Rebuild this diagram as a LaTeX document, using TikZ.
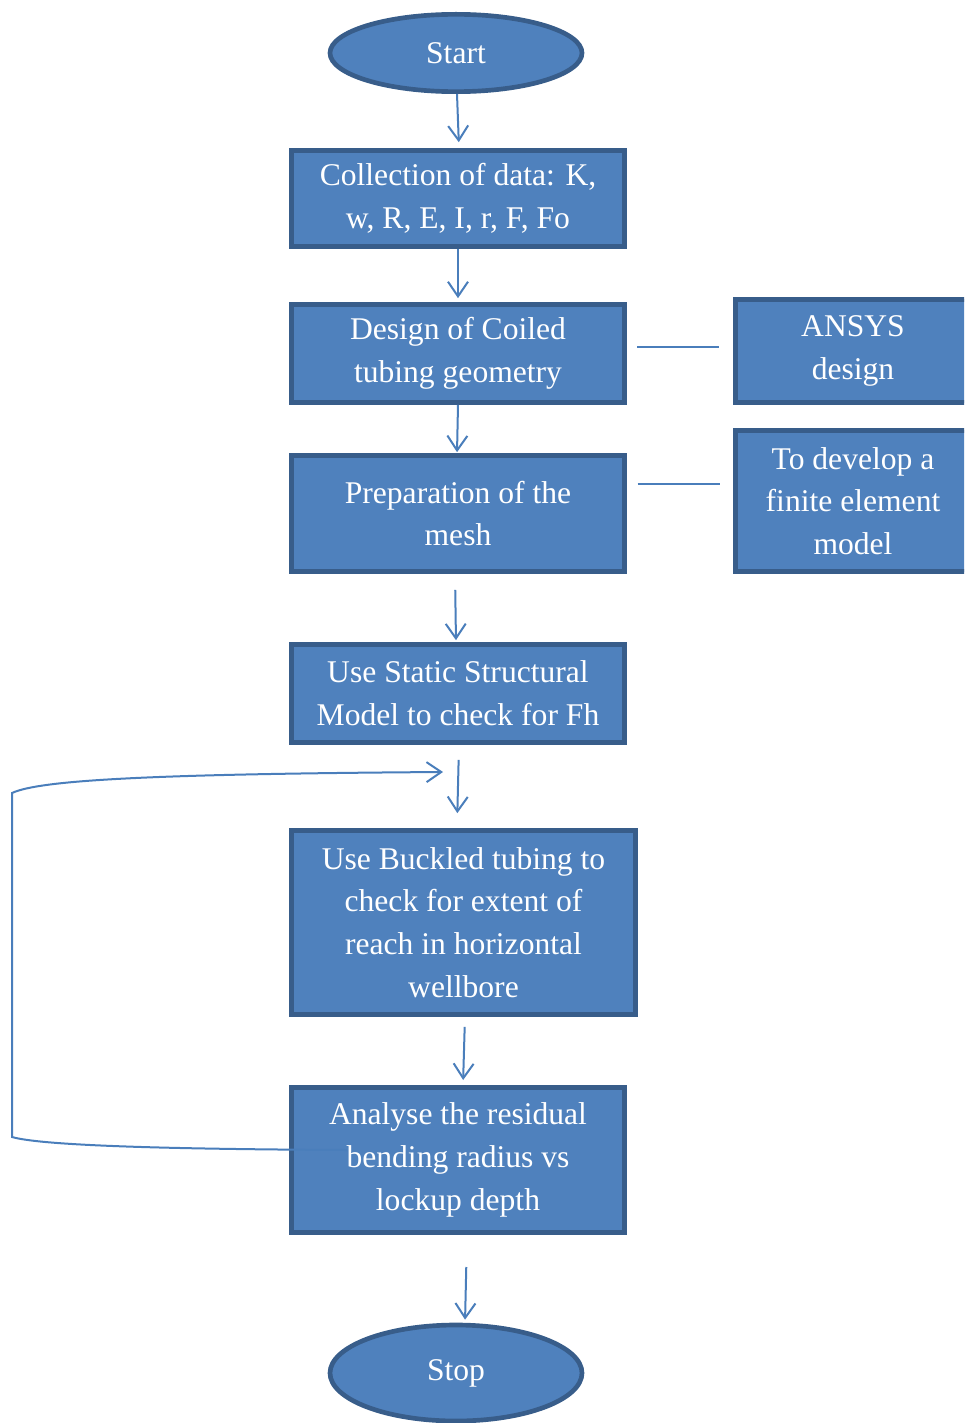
\documentclass[tikz,border=0pt]{standalone}
\usepackage{fontspec}
\setmainfont{Liberation Serif}
\usetikzlibrary{arrows.meta,shapes.geometric}
\definecolor{boxfill}{HTML}{4F81BD}
\definecolor{boxline}{HTML}{385D8A}
\definecolor{linkcol}{HTML}{4A7EBB}
\begin{document}
\begin{tikzpicture}[x=0.75pt, y=-0.75pt,
    every node/.style={font=\fontsize{23.7}{32}\selectfont, text=white, align=center, inner sep=0pt},
    stepbox/.style={rectangle, draw=boxline, fill=boxfill, line width=3.5pt, minimum width=250pt},
    termbox/.style={ellipse, draw=boxline, fill=boxfill, line width=3.5pt, minimum width=189pt, minimum height=58pt},
    link/.style={draw=linkcol, line width=1.5pt},
    arr/.style={link, -{Straight Barb[length=11pt,width=15pt]}}]
    \useasboundingbox (0,0) rectangle (964,1423);
    \clip (0,0) rectangle (964,1423);

    % Start and stop
    \node[termbox] (start) at (456,53) {Start};
    \node[termbox, minimum height=72pt] (stop) at (456,1373) {Stop};

    % Main steps
    \node[stepbox, minimum height=72pt] (data) at (458,198.5) {Collection of data: K,\\ w, R, E, I, r, F, Fo};
    \node[stepbox, minimum height=73.5pt] (geom) at (458,353.5) {Design of Coiled\\ tubing geometry};
    \node[stepbox, minimum height=87pt] (mesh) at (458,513.5) {Preparation of the\\ mesh};
    \node[stepbox, minimum height=73.5pt] (static) at (458,693.5) {Use Static Structural\\ Model to check for Fh};
    \node[stepbox, minimum width=258pt, minimum height=138pt] (buckle) at (463.5,922.5) {Use Buckled tubing to\\ check for extent of\\ reach in horizontal\\ wellbore};
    \node[stepbox, minimum height=109pt] (resid) at (458,1160) {Analyse the residual\\ bending radius vs\\ lockup depth};

    % Side boxes
    \node[stepbox, minimum width=176pt, minimum height=77.5pt] (ansys) at (853,351) {ANSYS\\ design};
    \node[stepbox, minimum width=176pt, minimum height=106pt] (fem) at (853,501) {To develop a\\ finite element\\ model};

    % Arrows down
    \draw[arr, shorten >=4.5pt] ([xshift=0.75pt]start.south) -- ([xshift=0.75pt]data.north);
    \draw[arr, shorten >=3pt] (data.south) -- (geom.north);
    \draw[arr, shorten >=0.75pt] (geom.south) -- ([xshift=-0.75pt]mesh.north);
    \draw[arr, shorten <=12pt, shorten >=1.5pt] ([xshift=-2.25pt]mesh.south) -- ([xshift=-1.5pt]static.north);
    \draw[arr, shorten <=11.25pt, shorten >=11.25pt] ([xshift=0.75pt]static.south) -- ([xshift=-4.9pt]buckle.north);
    \draw[arr, shorten <=7.5pt, shorten >=3.75pt] ([xshift=1.1pt]buckle.south) -- ([xshift=3.75pt]resid.north);
    \draw[arr, shorten <=24pt, shorten >=2.25pt] ([xshift=6.75pt]resid.south) -- ([xshift=6.75pt]stop.north);

    % Side links
    \draw[link, shorten <=7.5pt, shorten >=11pt] ([yshift=5pt]geom.east) -- ([yshift=5pt]geom.east -| ansys.west);
    \draw[link, shorten <=8pt, shorten >=10pt] ([yshift=22pt]mesh.east) -- ([yshift=22pt]mesh.east -| fem.west);

    % Loop back
    \coordinate (loopend) at (443,772);
    \draw[arr] ([shift={(58,-10)}]resid.west) .. controls (150,1149) and (40,1145) .. (12,1137)
        -- (12,793) .. controls (40,780) and (150,774) .. (loopend);
\end{tikzpicture}
\end{document}
